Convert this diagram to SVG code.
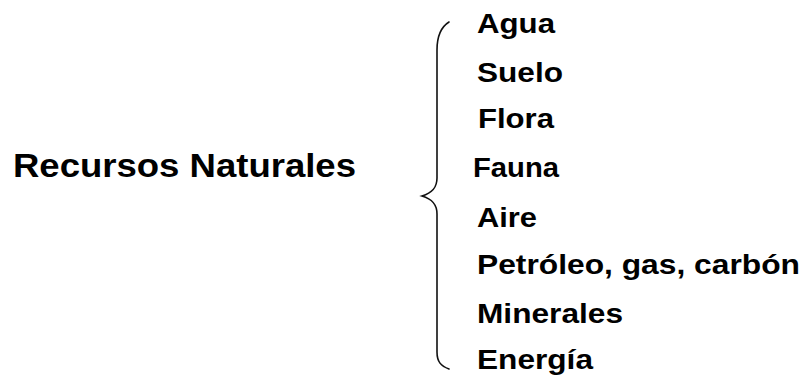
<svg xmlns="http://www.w3.org/2000/svg" width="804" height="376" viewBox="0 0 804 376">
<style>
text{font-family:"Liberation Sans",Arial,sans-serif;font-weight:bold;fill:#000}
.t{font-size:34px}
.i{font-size:28.5px}
.br{fill:none;stroke:#111;stroke-width:1.6;stroke-linecap:round}
</style>
<rect width="804" height="376" fill="#fff"/>
<g id="title"><text class="t" x="13" y="177" textLength="343" lengthAdjust="spacingAndGlyphs">Recursos Naturales</text></g>
<g id="connectors"><path class="br" d="M449,22 C441,27 437,35 437,50 L437,178 C437,188 432,193 422,196 C432,199 437,204 437,214 L437,352 C437,362 441,366 449,369"/></g>
<g id="agua"><text class="i" x="477" y="33" textLength="78" lengthAdjust="spacingAndGlyphs">Agua</text></g>
<g id="suelo"><text class="i" x="477" y="82" textLength="86" lengthAdjust="spacingAndGlyphs">Suelo</text></g>
<g id="flora"><text class="i" x="478" y="128" textLength="76" lengthAdjust="spacingAndGlyphs">Flora</text></g>
<g id="fauna"><text class="i" x="473" y="177" textLength="86" lengthAdjust="spacingAndGlyphs">Fauna</text></g>
<g id="aire"><text class="i" x="477" y="227" textLength="60" lengthAdjust="spacingAndGlyphs">Aire</text></g>
<g id="petroleo"><text class="i" x="477" y="274" textLength="323" lengthAdjust="spacingAndGlyphs">Petróleo, gas, carbón</text></g>
<g id="minerales"><text class="i" x="477" y="323" textLength="146" lengthAdjust="spacingAndGlyphs">Minerales</text></g>
<g id="energia"><text class="i" x="477" y="369" textLength="116" lengthAdjust="spacingAndGlyphs">Energía</text></g>
</svg>
